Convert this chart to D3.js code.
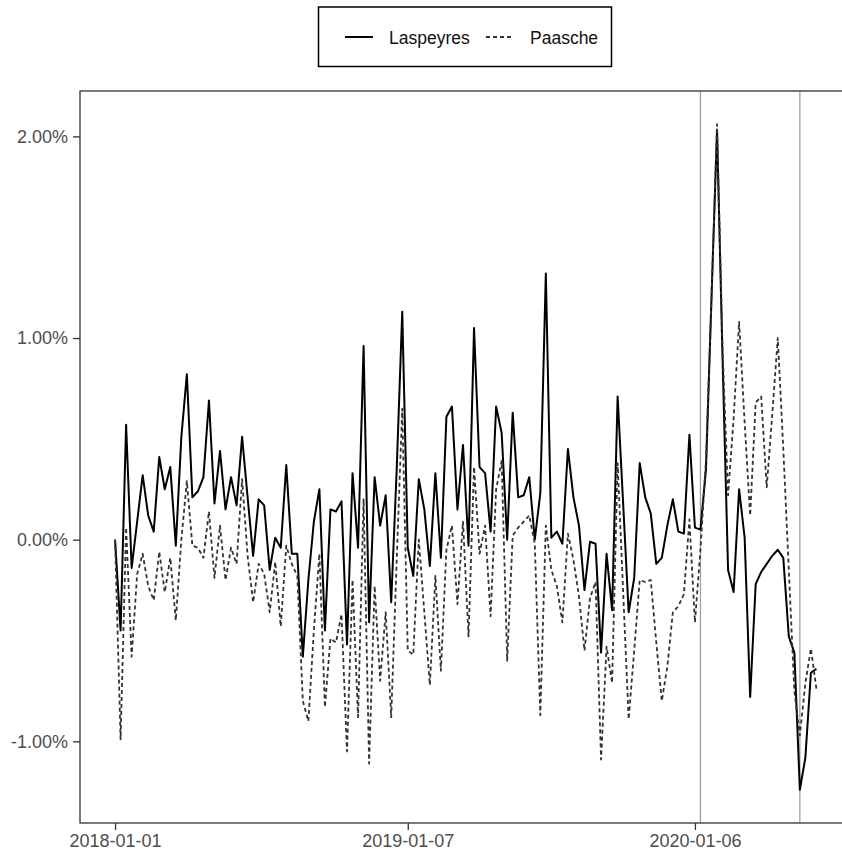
<!DOCTYPE html>
<html>
<head>
<meta charset="utf-8">
<script src="https://cdn.jsdelivr.net/npm/d3@7"></script>
<style>
  html, body { margin: 0; padding: 0; background: #fff; }
  svg { display: block; font-family: "Liberation Sans", Arial, sans-serif; }
</style>
</head>
<body>
<svg id="chart" width="842" height="851"></svg>
<script>
// ---- data ----
const startDate = "2018-01-01";   // first weekly observation (Monday)
const seriesNames = ["Laspeyres", "Paasche"];
const laspeyres = [
  0.00, -0.45, 0.57, -0.14, 0.09, 0.32, 0.12, 0.04, 0.41, 0.25,
  0.36, -0.03, 0.51, 0.82, 0.21, 0.24, 0.31, 0.69, 0.18, 0.44,
  0.15, 0.31, 0.17, 0.51, 0.21, -0.08, 0.20, 0.17, -0.15, 0.01,
  -0.04, 0.37, -0.07, -0.07, -0.58, -0.20, 0.09, 0.25, -0.45, 0.15,
  0.14, 0.19, -0.52, 0.33, -0.04, 0.96, -0.41, 0.31, 0.07, 0.22,
  -0.31, 0.35, 1.13, -0.04, -0.18, 0.30, 0.15, -0.13, 0.33, -0.09,
  0.61, 0.66, 0.15, 0.47, -0.03, 1.05, 0.36, 0.33, 0.04, 0.66,
  0.53, 0.00, 0.63, 0.21, 0.22, 0.31, 0.00, 0.23, 1.32, 0.01,
  0.04, -0.02, 0.45, 0.21, 0.07, -0.25, -0.01, -0.02, -0.56, -0.07,
  -0.35, 0.71, 0.18, -0.36, -0.19, 0.38, 0.21, 0.13, -0.12, -0.09,
  0.07, 0.20, 0.04, 0.03, 0.52, 0.06, 0.05, 0.35, 1.20, 2.03,
  0.90, -0.15, -0.26, 0.25, 0.01, -0.78, -0.22, -0.16, -0.12, -0.08,
  -0.05, -0.09, -0.48, -0.56, -1.24, -1.08, -0.66, -0.64
];
const paasche = [
  0.00, -0.99, 0.06, -0.58, -0.17, -0.07, -0.23, -0.30, -0.06, -0.26,
  -0.09, -0.40, 0.00, 0.29, -0.03, -0.04, -0.09, 0.14, -0.19, 0.07,
  -0.20, -0.04, -0.12, 0.30, -0.08, -0.31, -0.12, -0.17, -0.36, -0.11,
  -0.43, -0.03, -0.12, -0.18, -0.80, -0.90, -0.45, -0.07, -0.83, -0.49,
  -0.51, -0.37, -1.05, -0.20, -0.88, 0.20, -1.11, -0.23, -0.70, -0.36,
  -0.88, -0.10, 0.65, -0.55, -0.57, 0.00, -0.36, -0.72, -0.18, -0.65,
  -0.05, 0.07, -0.32, 0.09, -0.48, 0.36, -0.07, 0.07, -0.38, 0.25,
  0.39, -0.60, 0.02, 0.06, 0.09, 0.12, -0.02, -0.87, 0.07, -0.15,
  -0.23, -0.41, 0.03, -0.10, -0.28, -0.55, -0.29, -0.21, -1.09, -0.53,
  -0.71, 0.38, -0.26, -0.89, -0.55, -0.20, -0.21, -0.20, -0.51, -0.80,
  -0.63, -0.36, -0.33, -0.27, 0.10, -0.41, -0.05, 0.40, 1.20, 2.06,
  0.95, 0.22, 0.60, 1.08, 0.58, 0.12, 0.68, 0.71, 0.26, 0.62,
  1.00, 0.45, -0.15, -0.75, -0.97, -0.71, -0.54, -0.74
];
const xTickLabels = ["2018-01-01", "2019-01-07", "2020-01-06"];
const yTickValues = [-1, 0, 1, 2];
const vlineDates = ["2020-01-13", "2020-05-18"];

// ---- build ----
const parse = d3.utcParse("%Y-%m-%d");
const t0 = parse(startDate);
const dates = laspeyres.map((_, i) => d3.utcWeek.offset(t0, i));
const series = [
  { name: seriesNames[0], values: laspeyres, dash: null, color: "#000", width: 2 },
  { name: seriesNames[1], values: paasche, dash: "4,3", color: "#333", width: 1.8 }
];

const svg = d3.select("#chart");
const panel = { left: 80, top: 91, bottom: 823 };
const xExt = d3.extent(dates);
const span = xExt[1] - xExt[0];
const xPad = span * 0.05;
const xDomain = [new Date(+xExt[0] - xPad), new Date(+xExt[1] + xPad)];
// panel right edge falls just outside the image (cropped as in the reference)
panel.right = 851.5;
const x = d3.scaleUtc().domain(xDomain).range([panel.left, panel.right]);

const allVals = laspeyres.concat(paasche);
const yMin = d3.min(allVals), yMax = d3.max(allVals);
const yPad = (yMax - yMin) * 0.05;
const y = d3.scaleLinear().domain([yMin - yPad, yMax + yPad]).range([panel.bottom, panel.top]);

// clip to panel
svg.append("defs").append("clipPath").attr("id", "clip")
  .append("rect").attr("x", panel.left).attr("y", panel.top)
  .attr("width", panel.right - panel.left).attr("height", panel.bottom - panel.top);

// vertical reference lines
svg.append("g").selectAll("line").data(vlineDates.map(parse)).join("line")
  .attr("x1", d => x(d)).attr("x2", d => x(d))
  .attr("y1", panel.top).attr("y2", panel.bottom)
  .attr("stroke", "#a0a0a0").attr("stroke-width", 1.3);

// lines
const line = d3.line().x((d, i) => x(dates[i])).y(d => y(d));
const g = svg.append("g").attr("clip-path", "url(#clip)");
series.forEach(s => {
  g.append("path").datum(s.values)
    .attr("d", line)
    .attr("fill", "none")
    .attr("stroke", s.color)
    .attr("stroke-width", s.width)
    .attr("stroke-linejoin", "round")
    .attr("stroke-dasharray", s.dash);
});

// panel border
svg.append("rect")
  .attr("x", panel.left).attr("y", panel.top)
  .attr("width", panel.right - panel.left).attr("height", panel.bottom - panel.top)
  .attr("fill", "none").attr("stroke", "#333").attr("stroke-width", 1.3);

// y axis
const yAxis = d3.axisLeft(y).tickValues(yTickValues).tickSize(7).tickPadding(5)
  .tickFormat(d => d.toFixed(2) + "%");
const gy = svg.append("g").attr("transform", `translate(${panel.left},0)`).call(yAxis);
gy.select(".domain").remove();
gy.selectAll(".tick line").attr("stroke", "#333").attr("stroke-width", 1.3);
gy.selectAll(".tick text").attr("fill", "#4d4d4d").attr("font-size", 18)
  .attr("font-family", "'Liberation Sans', Arial, sans-serif");

// x axis
const xAxis = d3.axisBottom(x).tickValues(xTickLabels.map(parse)).tickSize(7).tickPadding(4)
  .tickFormat(d3.utcFormat("%Y-%m-%d"));
const gx = svg.append("g").attr("transform", `translate(0,${panel.bottom})`).call(xAxis);
gx.select(".domain").remove();
gx.selectAll(".tick line").attr("stroke", "#333").attr("stroke-width", 1.3);
gx.selectAll(".tick text").attr("fill", "#4d4d4d").attr("font-size", 18)
  .attr("font-family", "'Liberation Sans', Arial, sans-serif");

// legend
const lg = svg.append("g");
lg.append("rect").attr("x", 318.5).attr("y", 7).attr("width", 293).attr("height", 59.5)
  .attr("fill", "#fff").attr("stroke", "#000").attr("stroke-width", 1.5);
const legendItems = [
  { s: series[0], kx: 345, tx: 389 },
  { s: series[1], kx: 486, tx: 530 }
];
legendItems.forEach(it => {
  lg.append("line").attr("x1", it.kx).attr("x2", it.kx + 28).attr("y1", 37).attr("y2", 37)
    .attr("stroke", it.s.color).attr("stroke-width", it.s.width)
    .attr("stroke-dasharray", it.s.dash);
  lg.append("text").attr("x", it.tx).attr("y", 43.5).text(it.s.name)
    .attr("font-size", 17.5).attr("fill", "#111");
});
</script>
</body>
</html>
